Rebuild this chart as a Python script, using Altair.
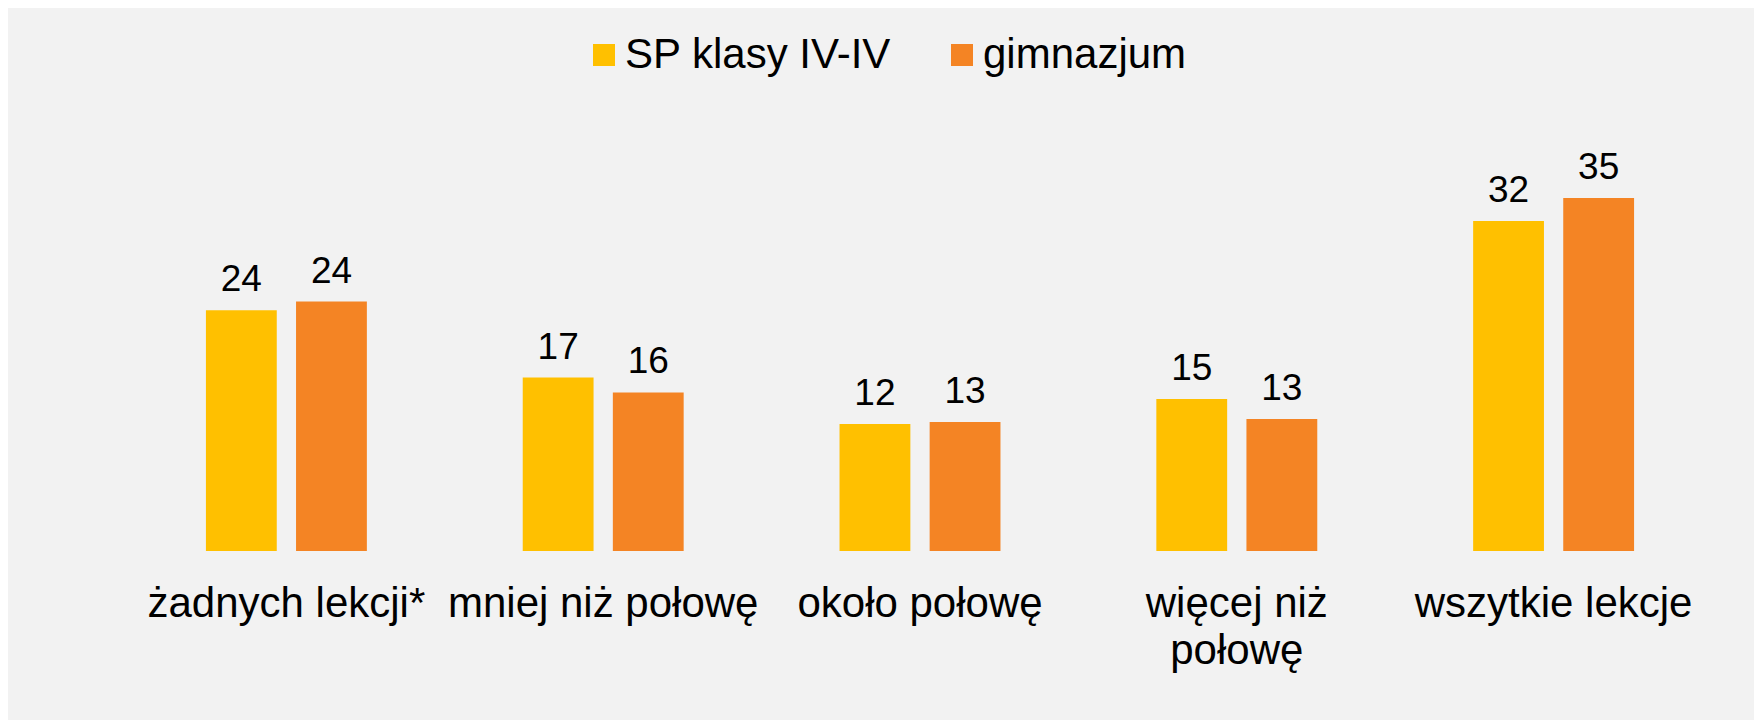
import altair as alt
import pandas as pd

categories = ["żadnych lekcji*", "mniej niż połowę", "około połowę", "więcej niż połowę", "wszytkie lekcje"]
series_names = ["SP klasy IV-IV", "gimnazjum"]
sp_values = [23.6, 17.0, 12.45, 14.9, 32.35]
gim_values = [24.45, 15.55, 12.65, 12.95, 34.6]
colors = ["#FFC000", "#F48424"]

rows = []
for c, v in zip(categories, sp_values):
    rows.append({"kat": c, "seria": series_names[0], "wartosc": v})
for c, v in zip(categories, gim_values):
    rows.append({"kat": c, "seria": series_names[1], "wartosc": v})
df = pd.DataFrame(rows)

FONT = "Liberation Sans"

x = alt.X(
    "kat:N",
    sort=categories,
    scale=alt.Scale(paddingInner=0.492, paddingOuter=0.246),
    axis=alt.Axis(
        title=None,
        domain=False,
        ticks=False,
        tickSize=0,
        labelPadding=32,
        labelFontSize=42,
        labelFont=FONT,
        labelColor="#000000",
        labelAngle=0,
        labelLimit=0,
        labelOverlap=False,
        labelLineHeight=47,
        labelExpr="datum.label == 'więcej niż połowę' ? ['więcej niż', 'połowę'] : datum.label",
    ),
)
xo = alt.XOffset(
    "seria:N",
    sort=series_names,
    scale=alt.Scale(paddingInner=0.214, paddingOuter=0),
)
y = alt.Y("wartosc:Q", scale=alt.Scale(domain=[0, 40], nice=False), axis=None)

bars = alt.Chart(df).mark_bar().encode(
    x=x,
    xOffset=xo,
    y=y,
    color=alt.Color(
        "seria:N",
        sort=series_names,
        scale=alt.Scale(domain=series_names, range=colors),
        legend=alt.Legend(
            title=None,
            orient="none",
            direction="horizontal",
            legendX=455,
            legendY=-109,
            symbolType="square",
            symbolSize=484,
            symbolStrokeWidth=0,
            symbolOpacity=1,
            labelFontSize=42,
            labelFont=FONT,
            labelColor="#000000",
            labelOffset=0,
            labelLimit=0,
            columnPadding=49,
            padding=0,
        ),
    ),
)

labels = alt.Chart(df).mark_text(
    baseline="alphabetic", align="center", dy=-19, fontSize=37, font=FONT, color="#000000"
).encode(
    x=x,
    xOffset=xo,
    y=y,
    text=alt.Text("wartosc:Q", format=".0f"),
)

chart = (
    alt.layer(bars, labels)
    .properties(
        width=1584,
        height=408,
        background="#F2F2F2",
        padding={"left": 120, "top": 135, "right": 42, "bottom": 169},
        autosize=alt.AutoSizeParams(type="none"),
    )
    .configure_view(stroke=None)
)

chart.save("out.html", embed_options={"renderer": "svg", "actions": False})
